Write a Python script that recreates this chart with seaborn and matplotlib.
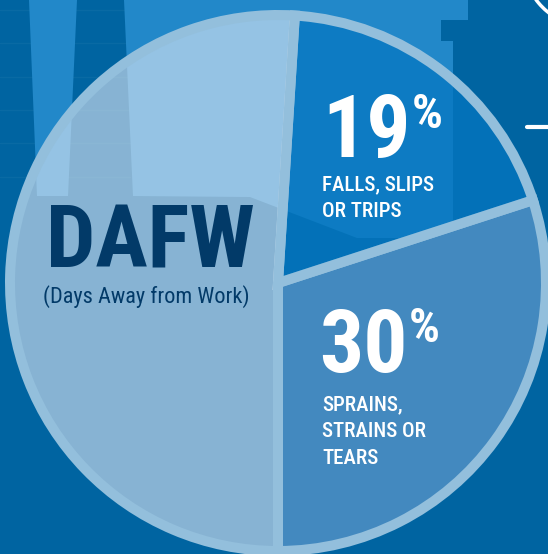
import numpy as np
import matplotlib
matplotlib.use("Agg")
import matplotlib.pyplot as plt
import matplotlib.patches as mpatches
from matplotlib import font_manager
from matplotlib.colors import to_rgba
import seaborn as sns

# --- data ---
categories = ["SPRAINS,\nSTRAINS OR\nTEARS", "FALLS, SLIPS\nOR TRIPS", "OTHER"]
shares = [30, 19, 51]
pct_labels = ["30", "19", ""]
title_text = "DAFW"
subtitle_text = "(Days Away from Work)"

# --- style ---
W, H = 548, 554
BG = "#0064a1"
BAR = "#2288c9"
RING = "#93bfdc"
NAVY = "#023a68"
slice_colors = [to_rgba("#4389bf", 1.0), to_rgba("#0577c1", 0.72), to_rgba("#eef1fa", 0.57)]

sns.set_theme(style="white")


def pick_font(names):
    for n in names:
        try:
            font_manager.findfont(n, fallback_to_default=False)
            return n
        except Exception:
            continue
    return "DejaVu Sans"


COND = pick_font(["Liberation Sans Narrow", "Roboto Condensed", "Roboto", "Liberation Sans"])
plt.rcParams["font.family"] = [COND, "DejaVu Sans"]


def Y(py):
    # pixel row (top-down) -> data y (bottom-up)
    return H - py


fig = plt.figure(figsize=(W / 100, H / 100), dpi=100)
fig.patch.set_facecolor(BG)
ax = fig.add_axes([0, 0, 1, 1])
ax.set_facecolor(BG)

# background decoration (faint bar chart behind the pie)
for py in [10, 43, 77, 110, 143, 177]:
    ax.plot([0, 130], [Y(py), Y(py)], color="white", alpha=0.04, lw=1, zorder=0)
barA = [(29, 0), (77, 0), (68, 196), (37, 196)]
barB = [(124, 0), (468, 0), (468, 20), (441, 20), (441, 41), (453, 41),
        (453, 238), (357, 238), (250, 197), (133, 196)]
for poly in (barA, barB):
    ax.add_patch(mpatches.Polygon([(x, Y(y)) for x, y in poly], closed=True,
                                  facecolor=BAR, edgecolor="none", zorder=0.5))

# top-right white fragments
ax.add_patch(mpatches.Arc((590, Y(-40)), 134, 134, theta1=180, theta2=260,
                          color="white", lw=2.5, zorder=1))
ax.plot([527, 548], [Y(127), Y(127)], color="white", lw=3, solid_capstyle="round", zorder=1)

# pie
cx, cy, r = 278, Y(283), 268
wedges, _ = ax.pie(shares, colors=slice_colors, startangle=-90, counterclock=True,
                   center=(cx, cy), radius=r,
                   wedgeprops=dict(edgecolor=RING, linewidth=7.2))
for w in wedges:
    w.set_zorder(2)

ax.set_xlim(0, W)
ax.set_ylim(0, H)
ax.set_aspect("equal")
ax.axis("off")

# slice labels
label_pos = [(322, 372, 342, 410), (325, 157, 128, 190)]  # x, pct baseline, % baseline, first text baseline
for i, (x, yb, yp, yt) in enumerate(label_pos):
    t = ax.text(x - 3, Y(yb), pct_labels[i], color="white", fontsize=63, fontweight="bold",
                ha="left", va="baseline", zorder=5)
    fig.canvas.draw()
    bb = t.get_window_extent()
    ax.text(bb.x1 + 1, Y(yp), "%", color="white", fontsize=35, fontweight="bold",
            ha="left", va="baseline", zorder=5)
    for j, line in enumerate(categories[i].split("\n")):
        ax.text(x - 3 if i == 1 else x, Y(yt + j * 27), line, color="white", fontsize=15,
                fontweight="medium", ha="left", va="baseline", zorder=5)

ax.text(46, Y(267), title_text, color=NAVY, fontsize=63, fontweight="bold",
        ha="left", va="baseline", zorder=5)
ax.text(43, Y(303), subtitle_text, color=NAVY, fontsize=16,
        ha="left", va="baseline", zorder=5)

fig.savefig("out.png", dpi=100, facecolor=BG)
